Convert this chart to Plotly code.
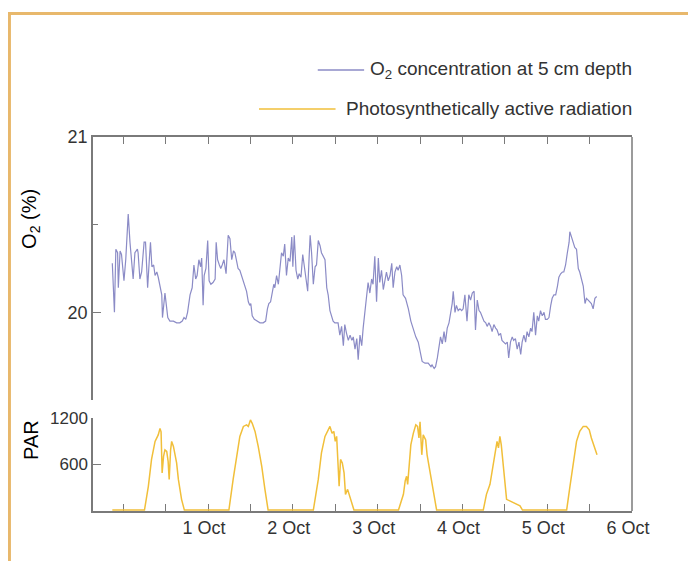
import pandas as pd
import plotly.graph_objects as go

BASE = pd.Timestamp("2014-09-30 00:00")

# O2 concentration (%) at 5 cm depth; time in hours after 30 Sep 00:00
o2_hours = [-3.1, -2.5, -2.1, -1.6, -1.4, -0.9, -0.5, 0.2, 0.7, 1.4, 1.9, 2.4, 2.8, 3.3, 4.0, 4.2, 4.7, 5.2, 5.9, 6.3,
            6.6, 6.9, 7.4, 7.7, 8.1, 8.6, 9.0, 9.5, 9.9, 10.4, 10.9, 11.1, 11.5, 11.8, 12.2, 12.6, 13.2, 14.2, 15.1, 16.0,
            16.7, 17.2, 17.7, 18.2, 18.9, 19.5, 20.0, 20.5, 20.9, 21.4, 21.9, 22.2, 22.6, 22.9, 23.4, 23.9, 24.3, 24.8,
            25.4, 26.0, 26.3, 26.7, 27.2, 27.6, 28.0, 28.5, 29.1, 29.7, 30.2, 30.7, 31.2, 31.6, 32.1, 32.5, 33.0, 33.5,
            34.0, 34.4, 34.9, 35.4, 35.8, 36.1, 36.5, 37.1, 37.8, 38.7, 39.6, 40.3, 40.8, 41.2, 41.7, 42.2, 42.6, 42.9,
            43.4, 43.9, 44.3, 44.8, 45.3, 45.7, 46.2, 46.7, 47.2, 47.7, 48.0, 48.4, 48.9, 49.4, 49.8, 50.3, 50.8, 51.2,
            51.7, 52.2, 52.6, 52.9, 53.3, 53.8, 54.3, 54.7, 55.2, 55.7, 56.1, 56.6, 57.1, 57.6, 58.0, 58.5, 59.0, 59.4,
            59.9, 60.4, 60.8, 61.3, 61.8, 62.3, 62.7, 63.2, 63.7, 64.2, 64.7, 65.1, 65.6, 66.1, 66.5, 67.0, 67.5, 67.9,
            68.4, 68.9, 69.3, 69.8, 70.3, 70.7, 71.2, 71.7, 72.2, 72.6, 73.1, 73.6, 74.1, 74.5, 75.0, 75.5, 76.0, 76.4,
            76.9, 77.4, 77.8, 78.3, 78.8, 79.2, 79.9, 80.7, 81.4, 82.1, 82.8, 83.5, 84.2, 84.6, 85.4, 86.3, 87.1, 87.4,
            88.0, 88.4, 88.9, 89.3, 89.8, 90.3, 90.8, 91.2, 91.7, 92.2, 92.7, 93.1, 93.4, 93.9, 94.3, 94.8, 95.3, 95.8,
            96.2, 96.7, 97.3, 97.8, 98.3, 98.8, 99.3, 99.7, 100.2, 100.7, 101.1, 101.6, 102.1, 102.6, 103.0, 103.5,
            104.0, 104.4, 104.9, 105.4, 105.8, 106.3, 106.8, 107.2, 107.7, 108.2, 108.7, 109.1, 109.6, 110.1, 110.5,
            111.0, 111.5, 112.0, 112.5, 112.9, 113.4, 113.9, 114.3, 114.8, 115.3, 115.7, 116.2, 116.7, 117.2, 117.6,
            118.1, 118.6, 119.1, 119.5, 120.0, 120.5, 121.0, 121.4, 121.9, 122.4, 122.9, 123.3, 123.8, 124.3, 124.7,
            125.2, 125.7, 126.2, 126.4, 126.9, 127.4, 127.8, 128.3, 128.8, 129.2, 129.7, 130.2, 130.7, 131.1, 131.6,
            132.1, 132.5, 133.0, 133.5, 134.0]
o2_values = [20.28, 20.00, 20.36, 20.34, 20.14, 20.35, 20.33, 20.18, 20.30, 20.56, 20.40, 20.29, 20.19, 20.34, 20.36,
             20.34, 20.19, 20.23, 20.40, 20.40, 20.29, 20.14, 20.31, 20.40, 20.26, 20.27, 20.21, 20.23, 20.20, 20.14,
             20.10, 19.97, 20.05, 20.11, 20.04, 19.97, 19.95, 19.95, 19.94, 19.94, 19.95, 19.97, 19.96, 20.00, 20.10,
             20.14, 20.27, 20.19, 20.21, 20.30, 20.26, 20.31, 20.04, 20.21, 20.25, 20.41, 20.18, 20.16, 20.17, 20.19,
             20.40, 20.30, 20.27, 20.25, 20.27, 20.30, 20.22, 20.44, 20.42, 20.30, 20.35, 20.34, 20.29, 20.25, 20.24,
             20.21, 20.18, 20.15, 20.12, 20.06, 20.04, 20.05, 19.98, 19.96, 19.95, 19.94, 19.94, 19.95, 20.02, 20.05,
             20.06, 20.11, 20.16, 20.14, 20.21, 20.16, 20.23, 20.34, 20.32, 20.39, 20.21, 20.31, 20.29, 20.43, 20.26,
             20.44, 20.24, 20.19, 20.22, 20.20, 20.33, 20.27, 20.21, 20.12, 20.31, 20.44, 20.34, 20.16, 20.26, 20.27,
             20.41, 20.38, 20.34, 20.32, 20.30, 20.14, 20.10, 20.01, 19.98, 19.95, 19.94, 19.94, 19.94, 19.87, 19.92,
             19.81, 19.93, 19.88, 19.84, 19.87, 19.84, 19.86, 19.79, 19.85, 19.73, 19.87, 19.81, 19.91, 20.00, 20.08,
             20.17, 20.11, 20.19, 20.16, 20.32, 20.06, 20.31, 20.17, 20.24, 20.13, 20.20, 20.23, 20.18, 20.21, 20.28,
             20.14, 20.23, 20.26, 20.24, 20.27, 20.21, 20.10, 20.08, 20.02, 19.95, 19.90, 19.86, 19.83, 19.76, 19.72,
             19.71, 19.71, 19.69, 19.70, 19.68, 19.69, 19.74, 19.79, 19.86, 19.82, 19.89, 19.83, 19.91, 19.94, 19.99,
             20.05, 20.12, 20.00, 20.04, 20.01, 20.02, 20.01, 20.02, 20.10, 19.95, 20.10, 20.07, 20.11, 20.12, 19.90,
             20.07, 20.01, 20.00, 19.97, 19.95, 19.94, 19.92, 19.94, 19.92, 19.89, 19.93, 19.91, 19.90, 19.87, 19.88,
             19.84, 19.83, 19.82, 19.83, 19.74, 19.83, 19.86, 19.84, 19.85, 19.79, 19.83, 19.76, 19.83, 19.87, 19.83,
             19.89, 19.86, 19.91, 19.89, 20.00, 19.87, 19.98, 19.95, 20.01, 19.98, 20.00, 19.96, 19.96, 19.97, 20.04,
             20.08, 20.10, 20.10, 20.15, 20.20, 20.22, 20.23, 20.23, 20.27, 20.34, 20.40, 20.46, 20.43, 20.40, 20.37,
             20.36, 20.25, 20.23, 20.18, 20.15, 20.05, 20.08, 20.07, 20.06, 20.05, 20.02, 20.08, 20.09]

# Photosynthetically active radiation; time in hours after 30 Sep 00:00
par_hours = [-3.1, 6.0, 7.1, 8.0, 9.0, 9.9, 10.4, 10.7, 11.0, 11.4, 11.8, 12.3, 12.7, 13.0, 13.4, 13.7, 14.2, 14.6,
             15.1, 15.6, 16.5, 17.3,
             29.9, 31.1, 32.1, 33.0, 34.0, 34.9, 35.4, 36.0, 36.5, 37.3, 38.2, 39.2, 40.1, 41.0,
             53.8, 55.2, 56.1, 57.1, 58.5, 59.1, 59.6, 60.0, 60.4, 60.8, 61.1, 61.5, 62.0, 62.5, 62.9, 63.5, 64.0,
             64.6, 65.3,
             77.9, 79.3, 79.8, 80.2, 80.5, 80.9, 81.4, 82.1, 82.8, 83.3, 83.7, 84.0, 84.2, 84.5, 84.9, 85.6, 86.0,
             86.8, 87.7, 88.7,
             101.9, 102.8, 103.8, 104.5, 105.2, 105.8, 106.2, 106.6, 107.0, 107.5, 108.0, 108.5, 109.4, 110.4, 111.3,
             112.3, 113.0,
             125.5, 126.4, 127.4, 128.3, 129.2, 130.2, 131.1, 131.9, 132.5, 133.5, 134.1]
par_values = [0, 0, 310, 660, 895, 980, 1065, 1020, 485, 700, 785, 765, 635, 400, 785, 895, 830, 745,
              615, 400, 140, 0,
              0, 400, 700, 960, 1090, 1110, 1090, 1175, 1130, 1025, 830, 570, 270, 0,
              0, 400, 745, 960, 1090, 1000, 1025, 895, 960, 660, 310, 660, 615, 485, 205, 270, 185,
              100, 0,
              0, 205, 380, 440, 335, 595, 850, 1000, 1110, 1090, 940, 1150, 1025, 720, 980, 915, 720,
              505, 250, 0,
              0, 205, 335, 550, 720, 895, 810, 960, 850, 595, 295, 140, 120, 100, 75,
              55, 0,
              0, 295, 635, 895, 1025, 1090, 1090, 1045, 940, 810, 720]

day_ticks = ["2014-10-01", "2014-10-02", "2014-10-03", "2014-10-04", "2014-10-05", "2014-10-06"]
day_labels = ["1 Oct", "2 Oct", "3 Oct", "4 Oct", "5 Oct", "6 Oct"]
o2_ticks = [20, 21]
par_ticks = [600, 1200]

o2_time = BASE + pd.to_timedelta(o2_hours, unit="h")
par_time = BASE + pd.to_timedelta(par_hours, unit="h")

O2_COLOR = "#8B8BC6"
PAR_COLOR = "#F1BF3A"
AXIS = "#7a7a7a"
TXT = "#333333"
FONT = "Liberation Sans, Arial, sans-serif"

fig = go.Figure()
fig.add_trace(go.Scatter(x=o2_time, y=o2_values, mode="lines", name="O2 concentration at 5 cm depth",
                         line=dict(color=O2_COLOR, width=1.2), xaxis="x", yaxis="y", showlegend=False))
fig.add_trace(go.Scatter(x=par_time, y=par_values, mode="lines", name="Photosynthetically active radiation",
                         line=dict(color=PAR_COLOR, width=1.5), xaxis="x2", yaxis="y2", showlegend=False))

x_range = ["2014-09-29 15:26", "2014-10-06 00:00"]
H12 = 12 * 3600 * 1000

common_x = dict(type="date", range=x_range, showgrid=False, zeroline=False, showline=True,
                linecolor=AXIS, linewidth=1.5, ticks="inside", ticklen=7, tickcolor=AXIS, tickwidth=1.2,
                tickvals=day_ticks,
                minor=dict(dtick=H12, tick0="2014-09-30", ticks="inside", ticklen=7, tickcolor=AXIS,
                           tickwidth=1.2, showgrid=False))

# the page body adds an 8 px offset, so margins are reduced by 8 px on left/top
fig.update_layout(
    width=696, height=561,
    margin=dict(l=85, r=72, t=129, b=58),
    paper_bgcolor="white", plot_bgcolor="white",
    font=dict(family=FONT, color=TXT),
    xaxis=dict(common_x, anchor="y", side="top", showticklabels=False, matches="x2"),
    xaxis2=dict(common_x, anchor="y2", ticktext=day_labels, layer="below traces",
                tickfont=dict(size=18, color=TXT, family=FONT), ticklabelshift=-4),
    yaxis=dict(domain=[0.2968, 1], range=[19.5, 21], tickvals=o2_ticks, showgrid=False, zeroline=False,
               showline=True, linecolor=AXIS, linewidth=1.5, ticks="inside", ticklen=8, tickcolor=AXIS,
               tickfont=dict(size=18, color=TXT, family=FONT),
               minor=dict(tickvals=[20.5], ticks="inside", ticklen=5, tickcolor=AXIS)),
    yaxis2=dict(domain=[0, 0.2487], range=[-12, 1200], tickvals=par_ticks, showgrid=False, zeroline=False,
                showline=True, linecolor=AXIS, linewidth=1.5, ticks="inside", ticklen=8, tickcolor=AXIS,
                tickfont=dict(size=17, color=TXT, family=FONT)),
)

# right frame line spanning both panels
fig.add_shape(type="line", xref="paper", yref="paper", x0=1, x1=1, y0=0, y1=1,
              line=dict(color=AXIS, width=1.5))
# orange outer frame
fig.add_shape(type="rect", xref="paper", yref="paper", x0=-0.155, x1=1.2, y0=-0.2, y1=1.330,
              line=dict(color="#E8B86C", width=3), fillcolor="rgba(0,0,0,0)", layer="below")

# legend (custom, right-aligned text)
legend_rows = [("O<sub>2</sub> concentration at 5 cm depth", O2_COLOR, 1.179, 0.417, 0.503),
               ("Photosynthetically active radiation", PAR_COLOR, 1.075, 0.308, 0.450)]
for text, color, yy, lx0, lx1 in legend_rows:
    fig.add_annotation(text=text, xref="paper", yref="paper", x=1.0037, y=yy, xanchor="right",
                       yanchor="middle", showarrow=False, font=dict(size=19, color=TXT, family=FONT))
    fig.add_shape(type="line", xref="paper", yref="paper", x0=lx0, x1=lx1, y0=yy, y1=yy,
                  line=dict(color=color, width=1.5))

# axis titles
fig.add_annotation(text="O<sub>2</sub> (%)", xref="paper", yref="paper", x=-0.115, y=0.781, textangle=-90,
                   showarrow=False, xanchor="center", yanchor="middle", font=dict(size=20, color="black", family=FONT))
fig.add_annotation(text="PAR", xref="paper", yref="paper", x=-0.115, y=0.19, textangle=-90,
                   showarrow=False, xanchor="center", yanchor="middle", font=dict(size=20, color="black", family=FONT))

fig.write_html("out.html")
